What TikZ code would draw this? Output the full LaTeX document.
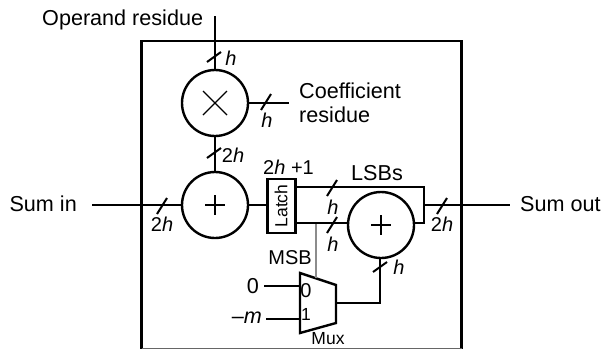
\documentclass[tikz,border=0pt]{standalone}
\usepackage{fontspec}
\setmainfont{Liberation Sans}
\begin{document}
\begin{tikzpicture}[x=1pt,y=-1pt,
 lbl/.style={inner sep=0pt,font=\fontsize{21.6}{23.5}\selectfont},
 small/.style={inner sep=0pt,font=\fontsize{20}{22}\selectfont},
 tiny/.style={inner sep=0pt,font=\fontsize{17.5}{19}\selectfont},
 wire/.style={line width=2.4pt,black},
 op/.style={circle,draw,line width=2.4pt,minimum size=66pt,inner sep=0pt},
 tick/.style={line width=2pt}]
\useasboundingbox (0,0) rectangle (601,349);
\draw[line width=2.4pt] (461.5,349) -- (461.5,41) -- (141.5,41) -- (141.5,349);
\draw[line width=1pt,black!60] (141.5,348.5) -- (461.5,348.5);
% operators
\node[op] (mul) at (215,103) {};
\node[op] (add) at (215,205) {};
\node[op] (add2) at (381,225) {};
\draw[line width=1.3pt] (203,91) -- (227,115) (227,91) -- (203,115);
\draw[line width=2.8pt] (215,195) -- (215,215) (205,205) -- (225,205);
\draw[line width=2.8pt] (381,215) -- (381,235) (371,225) -- (391,225);
% latch
\node[draw,line width=2.4pt,minimum width=28pt,minimum height=54pt,inner sep=0pt] (latch) at (281.5,206) {};
\node[tiny,rotate=90] (latchl) at (281,206) {Latch};
% mux
\coordinate (m1) at (300,273);
\coordinate (m2) at (336,285);
\coordinate (m3) at (336,323);
\coordinate (m4) at (300,333);
\draw[line width=2.4pt,line join=miter] (m1) -- (m2) -- (m3) -- (m4) -- cycle;
\coordinate (muxout) at (336,303);
\coordinate (mux0) at (300,286);
\coordinate (mux1) at (300,319);
\coordinate (muxtop) at (316,278);
% free ends
\coordinate (opin) at (215,16);
\coordinate (coef) at (289,103);
\coordinate (sin) at (92,205);
\coordinate (sout) at (510,205);
\coordinate (n0) at (264,286);
\coordinate (nm) at (266,319);
\coordinate (j) at (424,205);
% wires
\draw[line width=2.6pt,black!45] (316,224) -- (muxtop);
\draw[wire] (opin) -- (mul.north);
\draw[wire] (mul.east) -- (coef);
\draw[wire] (mul.south) -- (add.north);
\draw[wire] (sin) -- (add.west);
\draw[wire] (add.east) -- (latch.west |- add.east);
\draw[wire] (latch.east |- 0,187) -- (424,187) -- (424,223) -- (add2.east |- 0,223);
\draw[wire] (latch.east |- 0,223) -- (add2.west |- 0,223);
\draw[wire] (j) -- (sout);
\draw[wire] (muxout) -- (380,303) -- (380,258);
\draw[wire] (n0) -- (mux0);
\draw[wire] (nm) -- (mux1);
% ticks on vertical wires
\foreach \x/\y in {214/57,214/153,380/267}
  \draw[tick] (\x-7,\y+5) -- (\x+7,\y-5);
% ticks on horizontal wires
\foreach \x/\y in {162/206,332/188,332/225,442/206,266/102}
  \draw[tick] (\x-5,\y+8) -- (\x+5,\y-8);
% labels
\node[lbl,anchor=west] (t1) at (42,20) {Operand residue};
\node[lbl,anchor=west,align=left] (t2) at (299,103) {Coefficient\\residue};
\node[lbl,anchor=east] (t3) at (77,204) {Sum in};
\node[lbl,anchor=west] (t4) at (520,204) {Sum out};
\node[lbl] (t5) at (377,173) {LSBs};
\node[small,anchor=east] (t7) at (312,258) {MSB};
\node[lbl] (t8) at (253,286) {0};
\node[lbl,anchor=east] (t9) at (262,318) {–\textit{m}};
\node[small] (t10) at (306,291) {0};
\node[tiny] (t11) at (306,314) {1};
\node[tiny] (t12) at (328,339) {Mux};
\node[small,anchor=west] (t13) at (263,167) {2\textit{h} +1};
\node[small] at (231,58) {\textit{h}};
\node[small] at (267,120) {\textit{h}};
\node[small] at (233,155) {2\textit{h}};
\node[small] at (162,224) {2\textit{h}};
\node[small] at (333,207) {\textit{h}};
\node[small] at (333,244) {\textit{h}};
\node[small] at (399,267) {\textit{h}};
\node[small] at (442,224) {2\textit{h}};
\end{tikzpicture}
\end{document}
